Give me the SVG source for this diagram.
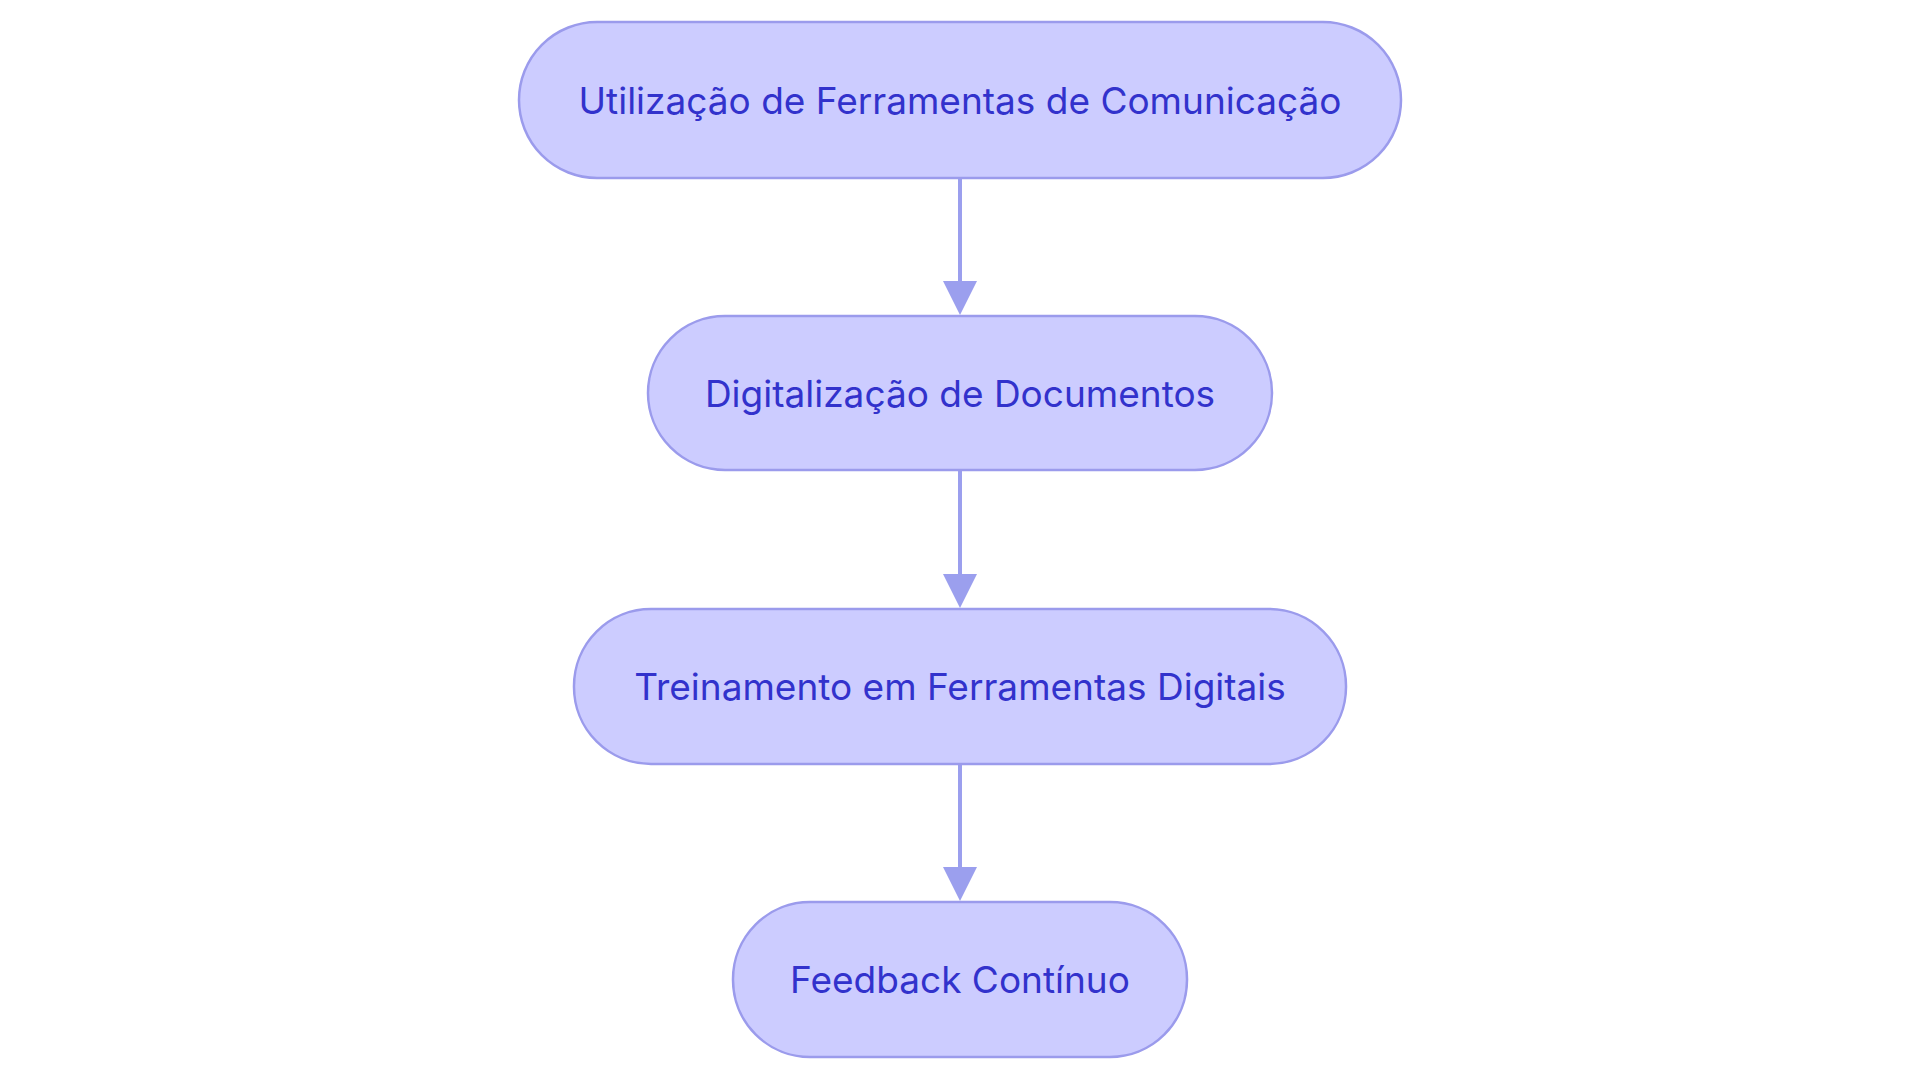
<svg xmlns="http://www.w3.org/2000/svg" width="1920" height="1083" viewBox="0 0 1920 1083">
<defs>
<style>
.n{fill:#ccccff;stroke:#9b9bec;stroke-width:2.5}
.t{font-family:Inter,"Noto Sans",sans-serif;font-size:37px;fill:#3232cc;text-anchor:middle;dominant-baseline:central}
.e{stroke:#9b9fee;stroke-width:4;fill:none}
</style>
<marker id="a" viewBox="0 0 10 10" refX="10" refY="5" markerWidth="8" markerHeight="8" markerUnits="userSpaceOnUse" orient="auto"><path d="M0,0L10,5L0,10z" fill="#9b9fee"/></marker>
</defs>
<rect width="1920" height="1083" fill="#fff"/>
<g id="connectors">
<line class="e" x1="960" y1="178" x2="960" y2="283"/><path d="M943,281h34l-17,34z" fill="#9b9fee"/>
<line class="e" x1="960" y1="470" x2="960" y2="576"/><path d="M943,574h34l-17,34z" fill="#9b9fee"/>
<line class="e" x1="960" y1="764" x2="960" y2="869"/><path d="M943,867h34l-17,34z" fill="#9b9fee"/>
</g>
<g id="n1"><rect class="n" x="519" y="22" width="882" height="156" rx="78"/><text class="t" x="960" y="100">Utilização de Ferramentas de Comunicação</text></g>
<g id="n2"><rect class="n" x="648" y="316" width="624" height="154" rx="77"/><text class="t" x="960" y="393">Digitalização de Documentos</text></g>
<g id="n3"><rect class="n" x="574" y="609" width="772" height="155" rx="77"/><text class="t" x="960" y="686">Treinamento em Ferramentas Digitais</text></g>
<g id="n4"><rect class="n" x="733" y="902" width="454" height="155" rx="77"/><text class="t" x="960" y="979">Feedback Contínuo</text></g>
</svg>
